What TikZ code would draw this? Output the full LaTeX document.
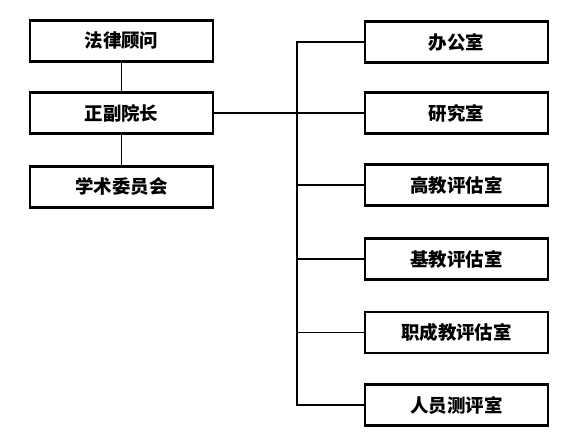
\documentclass[tikz,border=0pt]{standalone}
\usepackage{fontspec}
\newfontfamily\cjk{Noto Sans CJK SC}
\usetikzlibrary{positioning}

\begin{document}
\begin{tikzpicture}[font=\cjk\bfseries\fontsize{10.5}{12}\selectfont,
    unitbox/.style={draw, line width=1.2pt, minimum width=3.66cm, minimum height=0.82cm, inner sep=0pt},
    link/.style={line width=0.9pt}]
  \useasboundingbox (0,0) rectangle (11.32,-8.76);

  % leadership column
  \node[unitbox] (gw) at (2.43,-0.82) {法律顾问};
  \node[unitbox] (yz) at (2.43,-2.26) {正副院长};
  \node[unitbox] (xs) at (2.43,-3.74) {学术委员会};

  % offices
  \node[unitbox] (bgs) at (9.13,-0.84) {办公室};
  \node[unitbox] (yjs) at (9.13,-2.26) {研究室};
  \node[unitbox] (gj)  at (9.13,-3.70) {高教评估室};
  \node[unitbox] (jj)  at (9.13,-5.18) {基教评估室};
  \node[unitbox] (zc)  at (9.13,-6.65) {职成教评估室};
  \node[unitbox] (ry)  at (9.13,-8.10) {人员测评室};

  \coordinate (trunk) at (5.94,0);

  \draw[link] (gw) -- (yz) -- (xs);
  \draw[link] (yz) -- (yjs);
  \draw[link] (bgs.west) -- (bgs.west -| trunk) -- (ry.west -| trunk) -- (ry.west);
  \foreach \n in {gj,jj,zc}
    \draw[link] (\n.west) -- (\n.west -| trunk);
\end{tikzpicture}
\end{document}
